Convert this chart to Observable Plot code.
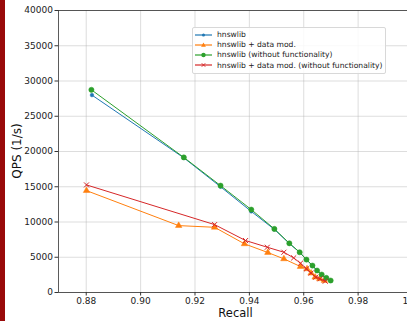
<!DOCTYPE html>
<html><head><meta charset="utf-8">
<script src="https://cdn.jsdelivr.net/npm/d3@7"></script>
<script src="https://cdn.jsdelivr.net/npm/@observablehq/plot@0.6"></script>
<style>
body{margin:0;overflow:hidden;background:#fff;font-family:"DejaVu Sans",sans-serif}
#wrap{position:relative;width:407px;height:321px;overflow:hidden}
#bar{position:absolute;left:0;top:0;width:5px;height:321px;background:#990a0a}
#chart{position:absolute;left:0;top:0;width:414px}
#chart svg{max-width:none !important;height:321px !important}
#legend{position:absolute;left:192px;top:27px;width:192px;height:45px;border:1px solid #d8d8d8;border-radius:2px;background:rgba(255,255,255,0.85);font-size:7.6px;color:#222}
.row{position:absolute;left:0;height:10px;display:flex;align-items:center}
.row svg{margin-left:2px;margin-right:5px}
#ylab{position:absolute;left:17px;top:151px;transform:translate(-50%,-50%) rotate(-90deg);font-size:12px;white-space:nowrap;color:#111}
</style></head>
<body>
<div id="wrap"><div id="chart"></div><div id="bar"></div><div id="ylab">QPS (1/s)</div><div id="legend"></div></div>
<script>
const recall_hnswlib = [0.8821, 0.9159, 0.9294, 0.9407, 0.9492, 0.9547, 0.9585, 0.9610, 0.9632, 0.9649, 0.9666, 0.9683, 0.9699];
const qps_hnswlib    = [28000, 19100, 15000, 11500, 8950, 6950, 5700, 4650, 3800, 3100, 2500, 2050, 1650];
const recall_datamod = [0.8801, 0.9140, 0.9272, 0.9382, 0.9468, 0.9527, 0.9588, 0.9612, 0.9627, 0.9642, 0.9659, 0.9676];
const qps_datamod    = [14450, 9490, 9250, 6900, 5670, 4770, 3680, 3350, 2740, 2170, 1940, 1700];
const recall_nofunc  = [0.8819, 0.9159, 0.9294, 0.9407, 0.9492, 0.9547, 0.9585, 0.9610, 0.9632, 0.9649, 0.9666, 0.9683, 0.9699];
const qps_nofunc     = [28750, 19160, 15160, 11760, 9020, 6980, 5710, 4670, 3820, 3120, 2550, 2080, 1700];
const recall_datamod_nofunc = [0.8801, 0.9272, 0.9386, 0.9466, 0.9527, 0.9563, 0.9588, 0.9610, 0.9627, 0.9644, 0.9660, 0.9679];
const qps_datamod_nofunc    = [15260, 9630, 7370, 6420, 5710, 4910, 4150, 3350, 2760, 2170, 1950, 1600];
const seriesNames = ["hnswlib", "hnswlib + data mod.", "hnswlib (without functionality)", "hnswlib + data mod. (without functionality)"];
const xTicks = [0.88, 0.90, 0.92, 0.94, 0.96, 0.98, 1.00];
const yTicks = [0, 5000, 10000, 15000, 20000, 25000, 30000, 35000, 40000];

const colors = ["#1f77b4", "#ff7f0e", "#2ca02c", "#d62728"];
const symbols = ["circle", "triangle", "circle", "times"];
const radii = [1.8, 2.4, 2.6, 2.4];
const recalls = [recall_hnswlib, recall_datamod, recall_nofunc, recall_datamod_nofunc];
const qpss = [qps_hnswlib, qps_datamod, qps_nofunc, qps_datamod_nofunc];
const data = seriesNames.map((s, i) => recalls[i].map((r, j) => ({series: s, recall: r, qps: qpss[i][j]})));

const marks = [
  Plot.gridX(xTicks, {stroke: "#b0b0b0", strokeOpacity: 0.55, strokeWidth: 0.8}),
  Plot.gridY(yTicks, {stroke: "#b0b0b0", strokeOpacity: 0.55, strokeWidth: 0.8}),
  Plot.frame({stroke: "#333", strokeWidth: 0.8}),
  Plot.axisX(xTicks, {tickFormat: d3.format(".2f"), tickSize: 3.5, tickPadding: 2, fontSize: 9, label: null, stroke: "#333"}),
  Plot.axisY(yTicks, {tickFormat: d3.format("d"), tickSize: 3.5, tickPadding: 2, fontSize: 9, label: null, stroke: "#333"}),
  Plot.text(["Recall"], {frameAnchor: "bottom", dy: 24, fontSize: 11.5, fill: "#111", textAnchor: "middle", x: null, y: null})
];
[0, 1, 2, 3].forEach(i => {
  marks.push(Plot.line(data[i], {x: "recall", y: "qps", stroke: colors[i], strokeWidth: 1}));
  marks.push(Plot.dot(data[i], {x: "recall", y: "qps", fill: symbols[i] === "times" ? "none" : colors[i], stroke: colors[i], strokeWidth: symbols[i] === "times" ? 1 : 0.5, symbol: symbols[i], r: radii[i]}));
});

const plot = Plot.plot({
  width: 414, height: 321,
  marginLeft: 58, marginRight: 2, marginTop: 10, marginBottom: 29,
  style: {fontFamily: "DejaVu Sans, sans-serif", color: "#222", background: "transparent", overflow: "visible", maxWidth: "none"},
  x: {domain: [0.8698, 1.0], label: null, axis: null},
  y: {domain: [0, 40000], label: null, axis: null},
  marks
});
document.getElementById("chart").appendChild(plot);

const leg = document.getElementById("legend");
const symSvg = {
  circle: (c, r) => `<circle cx="8.5" cy="4" r="${r}" fill="${c}"/>`,
  triangle: (c) => `<path d="M8.5,1.6 L10.9,5.8 L6.1,5.8Z" fill="${c}"/>`,
  times: (c) => `<path d="M6.8,2.3 L10.2,5.7 M10.2,2.3 L6.8,5.7" stroke="${c}" stroke-width="1"/>`
};
seriesNames.forEach((s, i) => {
  const row = document.createElement("div");
  row.className = "row";
  row.style.top = (1.5 + i * 10.2) + "px";
  row.innerHTML = `<svg width="17" height="8"><line x1="0" y1="4" x2="17" y2="4" stroke="${colors[i]}" stroke-width="1.2"/>${symSvg[symbols[i]](colors[i], radii[i] * 0.85)}</svg><span>${s}</span>`;
  leg.appendChild(row);
});
</script>
</body></html>
